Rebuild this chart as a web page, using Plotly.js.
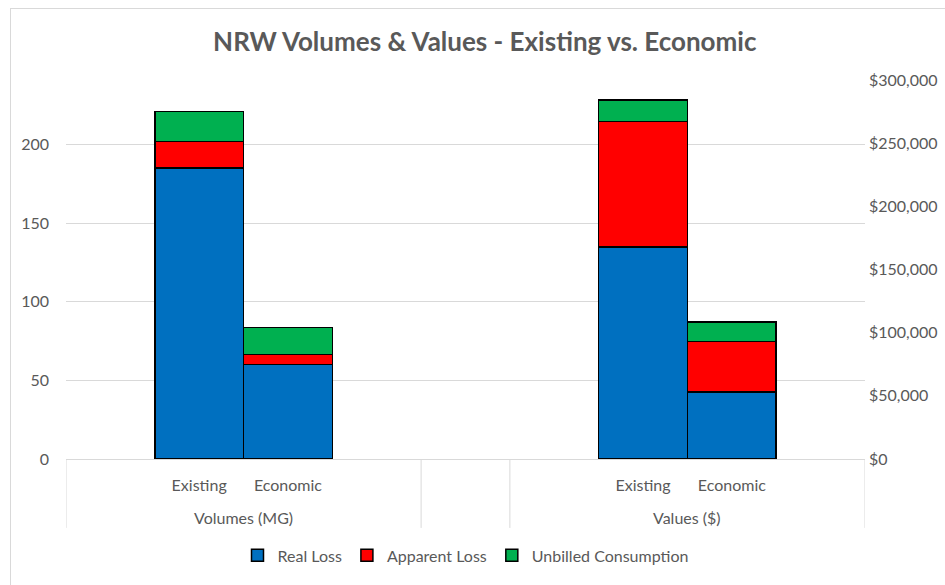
<!DOCTYPE html>
<html>
<head>
<meta charset="utf-8">
<script src="https://cdn.plot.ly/plotly-3.0.1.min.js"></script>
<style>
  html, body { margin: 0; padding: 0; background: #fff; }
  #frame { position: absolute; left: 10px; top: 8px; width: 1000px; height: 600px; border: 1px solid #d9d9d9; }
  #chart { position: absolute; left: 0; top: 0; width: 945px; height: 585px; }
</style>
</head>
<body>
<div id="frame"></div>
<div id="chart"></div>
<script>
// Categories
const scenarios = ['Existing', 'Economic'];
const groups = ['Volumes (MG)', 'Values ($)'];
const seriesNames = ['Real Loss', 'Apparent Loss', 'Unbilled Consumption'];

// Volumes (MG) – left axis
const volReal = [185, 60];
const volApparent = [17, 6.5];
const volUnbilled = [19, 17];

// Values ($) – right axis
const valReal = [168000, 53000];
const valApparent = [99000, 40000];
const valUnbilled = [17000, 15500];

// Axis ticks
const leftTicks = [0, 50, 100, 150, 200];
const rightTicks = [0, 50000, 100000, 150000, 200000, 250000, 300000];

const colors = ['#0070C0', '#FF0000', '#00B050'];
const volX = [1, 2];
const valX = [6, 7];

const volSeries = [volReal, volApparent, volUnbilled];
const valSeries = [valReal, valApparent, valUnbilled];

const traces = [];
volSeries.forEach((vals, i) => {
  traces.push({
    type: 'bar', x: volX, y: vals, name: seriesNames[i], yaxis: 'y', width: 1,
    marker: { color: colors[i], line: { color: '#000', width: 1.5 } },
    legendgroup: seriesNames[i], showlegend: true, hoverinfo: 'y+name'
  });
});
valSeries.forEach((vals, i) => {
  traces.push({
    type: 'bar', x: valX, y: vals, name: seriesNames[i], yaxis: 'y2', width: 1,
    marker: { color: colors[i], line: { color: '#000', width: 1.5 } },
    legendgroup: seriesNames[i], showlegend: false, hoverinfo: 'y+name'
  });
});

const mT = 80, mB = 120;
const plotH = 585 - mT - mB;
const divLow = -70 / plotH;
const txt = '#595959';
const fam = 'Lato, "Open Sans", sans-serif';

const layout = {
  width: 945, height: 585,
  paper_bgcolor: 'rgba(0,0,0,0)', plot_bgcolor: 'rgba(0,0,0,0)',
  margin: { l: 66, r: 80, t: mT, b: mB },
  font: { family: fam, size: 16, color: txt },
  title: {
    text: 'NRW Volumes & Values - Existing vs. Economic',
    font: { size: 26, color: txt, family: fam, weight: 'bold' },
    x: 0.513, xanchor: 'center', xref: 'container', y: 1 - 42 / 585, yanchor: 'middle', yref: 'container'
  },
  barmode: 'stack',
  xaxis: {
    range: [-0.5, 8.5], showgrid: false, zeroline: false,
    showline: true, linecolor: '#d9d9d9', linewidth: 1,
    tickvals: volX.concat(valX), ticktext: scenarios.concat(scenarios),
    ticks: '', ticklabelstandoff: 12, tickfont: { size: 16, color: txt },
    fixedrange: true
  },
  yaxis: {
    range: [0, 241], tickvals: leftTicks, showgrid: true, gridcolor: '#d9d9d9', gridwidth: 1,
    zeroline: false, showline: false, ticks: '', ticklabelstandoff: 16,
    tickfont: { size: 16, color: txt }, fixedrange: true
  },
  yaxis2: {
    overlaying: 'y', side: 'right', range: [0, 300000], tickvals: rightTicks,
    tickformat: '$,.0f', showgrid: false, zeroline: false, showline: false, ticks: '',
    ticklabelstandoff: 3, tickfont: { size: 16, color: txt }, fixedrange: true
  },
  legend: {
    orientation: 'h', x: 0.5, xanchor: 'center', y: -98 / plotH, yanchor: 'middle',
    font: { size: 16, color: txt }, traceorder: 'normal', itemwidth: 30
  },
  annotations: [
    { text: groups[0], x: 1.5, xref: 'x', y: -59 / plotH, yref: 'paper', yanchor: 'middle', showarrow: false, font: { size: 16, color: txt } },
    { text: groups[1], x: 6.5, xref: 'x', y: -59 / plotH, yref: 'paper', yanchor: 'middle', showarrow: false, font: { size: 16, color: txt } }
  ],
  shapes: [-0.5, 3.5, 4.5, 8.5].map(xv => ({
    type: 'line', xref: 'x', yref: 'paper', x0: xv, x1: xv, y0: 0, y1: divLow,
    line: { color: '#d9d9d9', width: 1 }
  }))
};

Plotly.newPlot('chart', traces, layout, { displayModeBar: false, staticPlot: true });
</script>
</body>
</html>
